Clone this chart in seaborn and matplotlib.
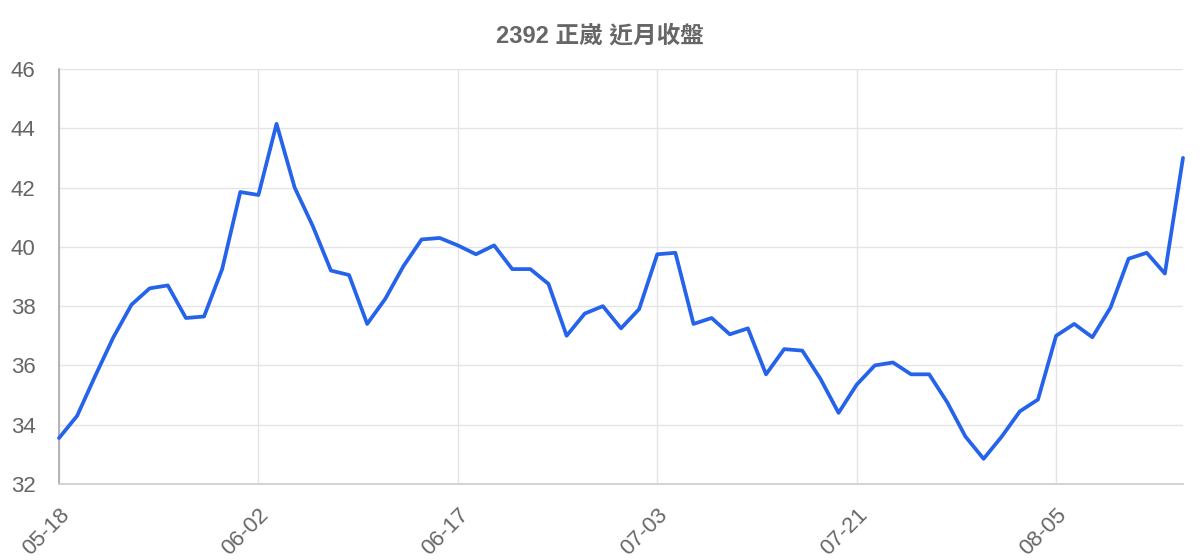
import numpy as np
import pandas as pd
import seaborn as sns
import matplotlib
matplotlib.use("Agg")
import matplotlib.pyplot as plt

# trading days shown on the chart
dates = [
    "05-18", "05-19", "05-20", "05-21", "05-22", "05-25", "05-26", "05-27",
    "05-28", "05-29", "06-01", "06-02", "06-03", "06-04", "06-05", "06-08",
    "06-09", "06-10", "06-11", "06-12", "06-15", "06-16", "06-17", "06-18",
    "06-19", "06-20", "06-22", "06-23", "06-24", "06-29", "06-30", "07-01",
    "07-02", "07-03", "07-06", "07-07", "07-08", "07-09", "07-10", "07-13",
    "07-14", "07-15", "07-16", "07-20", "07-21", "07-22", "07-23", "07-24",
    "07-27", "07-28", "07-29", "07-30", "07-31", "08-03", "08-04", "08-05",
    "08-06", "08-07", "08-10", "08-11", "08-12", "08-13", "08-14",
]

# closing prices
close = [
    33.55, 34.3, 35.65, 36.95, 38.05, 38.6, 38.7, 37.6, 37.65, 39.25,
    41.85, 41.75, 44.15, 42.0, 40.7, 39.2, 39.05, 37.4, 38.25, 39.35,
    40.25, 40.3, 40.05, 39.75, 40.05, 39.25, 39.25, 38.75, 37.0, 37.75,
    38.0, 37.25, 37.9, 39.75, 39.8, 37.4, 37.6, 37.05, 37.25, 35.7,
    36.55, 36.5, 35.55, 34.4, 35.35, 36.0, 36.1, 35.7, 35.7, 34.75,
    33.6, 32.85, 33.6, 34.45, 34.85, 37.0, 37.4, 36.95, 37.95, 39.6,
    39.8, 39.1, 43.0,
]

tick_idx = [0, 11, 22, 33, 44, 55]
y_ticks = [32, 34, 36, 38, 40, 42, 44, 46]

df = pd.DataFrame({"idx": range(len(close)), "date": dates, "close": close})

sns.set_theme(style="white")
plt.rcParams["font.family"] = ["Liberation Sans", "Noto Sans CJK TC", "DejaVu Sans"]

fig = plt.figure(figsize=(12, 5.6), dpi=100)
ax = fig.add_axes([59 / 1200, 1 - 484 / 560, (1183 - 59) / 1200, (484 - 69) / 560])

sns.lineplot(data=df, x="idx", y="close", ax=ax, color="#2563eb", linewidth=2.7,
             clip_on=False, zorder=5)

ax.set_xlim(0, len(close) - 1)
ax.set_ylim(32, 46)
ax.set_yticks(y_ticks)
ax.set_yticklabels([str(v) for v in y_ticks])
ax.set_xticks(tick_idx)
ax.set_xticklabels([dates[i] for i in tick_idx], rotation=45, ha="right",
                   va="top", rotation_mode="anchor")

ax.grid(True, color="#e4e4e4", linewidth=1.0)
ax.set_axisbelow(True)
ax.tick_params(axis="y", length=15, width=1.0, color="#e4e4e4", pad=2,
               labelsize=16, labelcolor="#666666")
ax.tick_params(axis="x", length=14, width=1.0, color="#e4e4e4", pad=1,
               labelsize=16, labelcolor="#666666")

for side in ["top", "right"]:
    ax.spines[side].set_visible(False)
ax.spines["left"].set_color("#a8a8a8")
ax.spines["left"].set_linewidth(1.2)
ax.spines["bottom"].set_color("#cfcfcf")
ax.spines["bottom"].set_linewidth(1.3)

ax.set_xlabel("")
ax.set_ylabel("")
fig.text(0.5, 1 - 36 / 560, "2392 正崴 近月收盤", ha="center", va="center",
         fontsize=17, fontweight="bold", color="#666666")

fig.savefig("out.png", dpi=100)
